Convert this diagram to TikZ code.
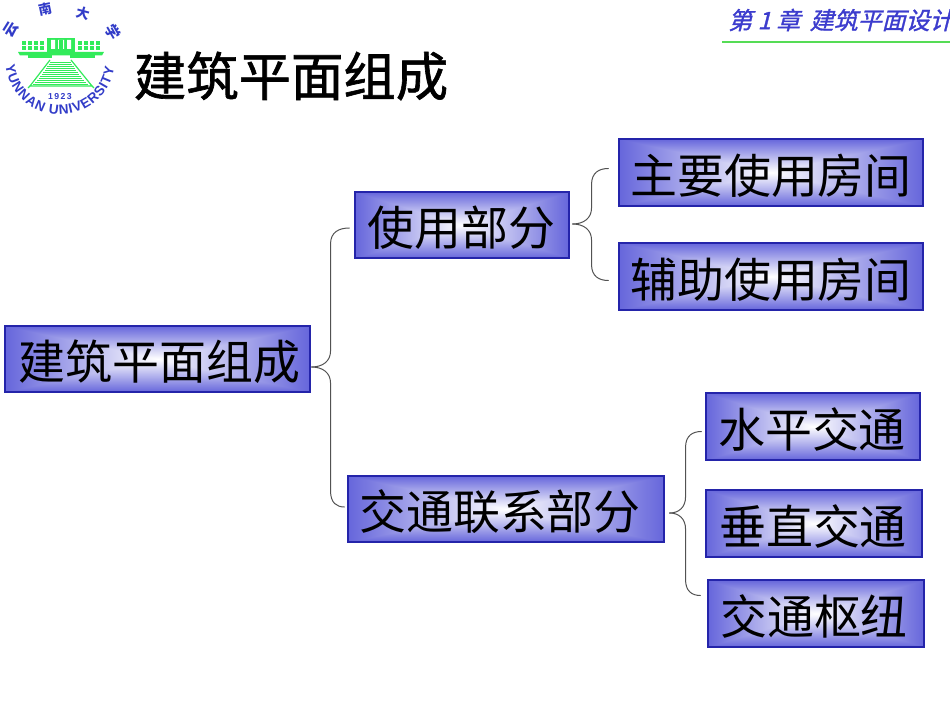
\documentclass[tikz,border=0pt]{standalone}
\usepackage{fontspec}
\setmainfont{Liberation Sans}
\newfontfamily\cjk{Noto Sans CJK SC}
\newfontfamily\cjktitle[FakeBold=1.2]{Noto Sans CJK SC}
\newfontfamily\cjkhead[FakeSlant=0.25,FakeBold=1.2]{Noto Sans CJK SC}
\usetikzlibrary{calc,decorations.text}
\definecolor{boxedge}{RGB}{36,36,170}
\definecolor{logoblue}{RGB}{50,60,200}
\definecolor{logogreen}{RGB}{50,235,90}
\definecolor{headblue}{RGB}{60,60,205}
\definecolor{headgreen}{RGB}{85,220,85}
\pgfdeclarefunctionalshading{rectglow}{\pgfpoint{-50bp}{-50bp}}{\pgfpoint{50bp}{50bp}}{}{
  abs exch abs 2 copy lt {exch} if pop 25 div
  dup 1 gt {pop 1} if
  dup 0.60 mul 1 exch sub exch
  dup 0.60 mul 1 exch sub exch
  0.14 mul 1 exch sub
}
\tikzset{
  x=0.75pt,y=-0.75pt,
  levelbox/.style={rectangle,draw=boxedge,line width=0.8pt,shading=rectglow,inner sep=0pt,
    text height=32pt,text depth=1pt,
    font=\cjk\fontsize{35.2}{36}\selectfont,text=black},
  brace/.style={draw=black!68,line width=0.75pt,line cap=round},
  logotext/.style={text=logoblue,inner sep=0pt},
  logostair/.style={logogreen,line width=0.5pt}
}
% \bracelink{tip}{node}{end offset}{spine dx}{sign}
\newcommand{\bracelink}[5]{%
  \coordinate (sp) at ($(#1)+(#4,0)$);
  \coordinate (en) at ($(#2.west)+(#3)$);
  \draw[brace] (#1) .. controls ($(#1)!0.6!(sp)$) and ($(sp)+(0,#5*6)$) .. ($(sp)+(0,#5*16)$)
    -- ($(sp |- en)+(0,-#5*16)$)
    .. controls ($(sp |- en)+(0,-#5*4)$) and ($(en)!0.55!(sp |- en)$) .. (en);}
\begin{document}
\begin{tikzpicture}
\useasboundingbox (0,0) rectangle (950,713);
% header
\node[anchor=west,inner sep=0pt,text=headblue,font=\cjkhead\fontsize{18}{18}\selectfont] (head) at (728,20) {第 1 章 \,建筑平面设计};
\coordinate (headL) at (722,42);
\coordinate (headR) at (950,42);
\draw[headgreen,line width=1.6pt] (headL) -- (headR);
% title
\node[inner sep=0pt,text=black,font=\cjktitle\fontsize{39.3}{40}\selectfont] (title) at (291,76) {建筑平面组成};
% logo
\coordinate (lc) at (60,60);
\path[decorate,decoration={text along path,text align={fit to path},
  text={|\fontsize{10.2}{11}\selectfont\bfseries\color{logoblue}|YUNNAN UNIVERSITY}}]
  ($(lc)+(186:41pt)$) arc[start angle=186,end angle=352,radius=41pt];
\node[logotext,font=\bfseries\fontsize{6.5}{7}\selectfont] (year) at (60,97) {1\,9\,2\,3};
\node[logotext,rotate=58,font=\cjk\bfseries\fontsize{11}{11}\selectfont] (lg1) at (11,30) {云};
\node[logotext,rotate=12,font=\cjk\bfseries\fontsize{10}{10}\selectfont] (lg2) at (45,9) {南};
\node[logotext,rotate=-15,font=\cjk\bfseries\fontsize{10}{10}\selectfont] (lg3) at (83,13) {大};
\node[logotext,rotate=-60,font=\cjk\bfseries\fontsize{11}{11}\selectfont] (lg4) at (113,32) {学};
% building
\fill[logogreen] (47,38) rectangle (75,52);
\fill[white] (51,40) rectangle (55,49) (58,40) rectangle (64,49) (67,40) rectangle (71,49);
\fill[logogreen] (59,40.5) rectangle (63,49);
\foreach \wx in {22,28,34,40,78,84,90,96}{
  \fill[logogreen] (\wx,41) rectangle ++(4,3.6);
  \fill[logogreen] (\wx,46) rectangle ++(4,3.6);
}
\fill[logogreen] (18,52) -- (104,52) -- (102,55.5) -- (20,55.5) -- cycle;
\fill[logogreen] (28,55.5) rectangle (52,58.5);
\fill[logogreen] (70,55.5) rectangle (95,58.5);
\foreach \sy/\sa/\sb in {62/50/71,64/49/72,66/47/74,68/46/75,70/45/76,72/43/78,74/42/79,76/40/81,78/39/82,80/37/84,82/35/86,84/33/88}{
  \draw[logostair] (\sa,\sy) -- (\sb,\sy);
}
\draw[logogreen,line width=0.9pt] (50,60) -- (30,86) -- (92,86) -- (71,60);
\draw[logogreen,line width=0.9pt] (30,86) -- (28,88) (92,86) -- (94,88);
% boxes
\node[levelbox,minimum width=228.75pt,minimum height=49.5pt] (root) at (157.5,359) {\hspace*{3pt}建筑平面组成};
\node[levelbox,minimum width=160.5pt,minimum height=49.5pt] (use) at (462,225) {使用部分\hspace*{1pt}};
\node[levelbox,minimum width=228pt,minimum height=50.25pt] (main) at (771,172.5) {主要使用房间};
\node[levelbox,minimum width=228pt,minimum height=50.25pt] (aux) at (771,276.5) {辅助使用房间};
\node[levelbox,minimum width=237pt,minimum height=49.5pt] (traf) at (506,509) {交通联系部分\hspace*{9pt}};
\node[levelbox,minimum width=160.5pt,minimum height=50.25pt] (hor) at (813,426.5) {水平交通\hspace*{1.5pt}};
\node[levelbox,minimum width=162pt,minimum height=50.25pt] (ver) at (814,523.5) {垂直交通\hspace*{1.5pt}};
\node[levelbox,minimum width=162pt,minimum height=50.25pt] (hub) at (816,613.5) {交通枢纽\hspace*{3pt}};
% braces
\coordinate (tipA) at ($(root.east)+(1,8)$);
\coordinate (tipB) at ($(use.east)+(3,-1)$);
\coordinate (tipC) at ($(traf.east)+(5,4)$);
\bracelink{tipA}{use}{-5,3}{19}{-1}
\bracelink{tipA}{traf}{-3,-2}{19}{1}
\bracelink{tipB}{main}{-10,-4}{19}{-1}
\bracelink{tipB}{aux}{-10,4}{19}{1}
\bracelink{tipC}{hor}{-4,5}{16}{-1}
\bracelink{tipC}{hub}{-7,-18}{16}{1}
\end{tikzpicture}
\end{document}
